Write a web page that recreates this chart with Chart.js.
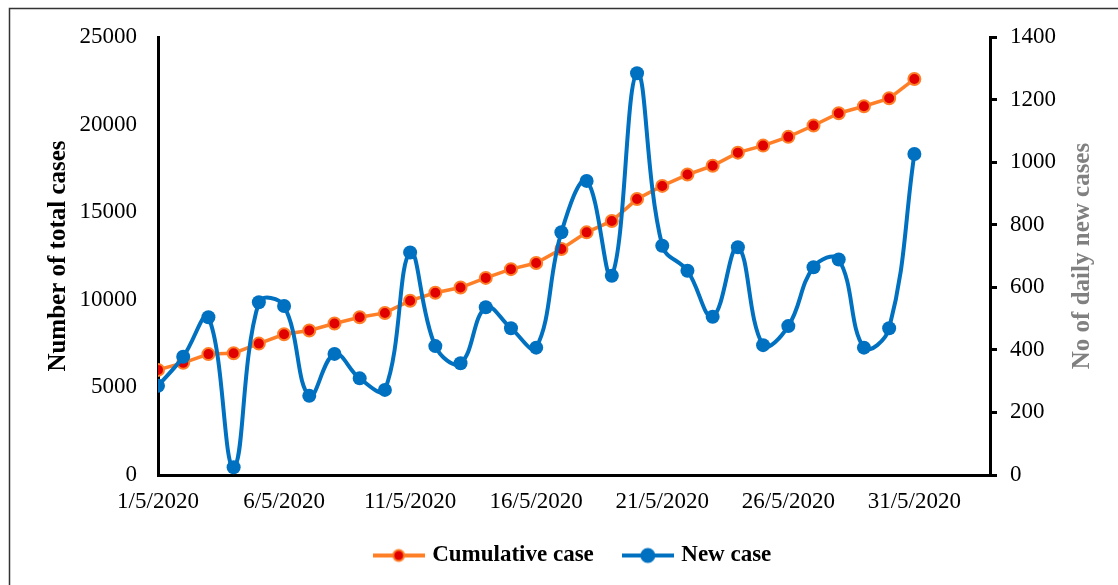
<!DOCTYPE html>
<html>
<head>
<meta charset="utf-8">
<title>Cumulative and new cases, May 2020</title>
<script src="https://cdn.jsdelivr.net/npm/chart.js@4.4.1/dist/chart.umd.min.js"></script>
<style>
  html, body { margin: 0; padding: 0; background: #fff; }
  #wrap { width: 1118px; height: 585px; }
</style>
</head>
<body>
<div id="wrap"><canvas id="casesChart" width="1118" height="585"></canvas></div>
<script>
// day of May 2020 for each point
const days = [1, 2, 3, 4, 5, 6, 7, 8, 9, 10, 11, 12, 13, 14, 15, 16,
  17, 18, 19, 20, 21, 22, 23, 24, 25, 26, 27, 28, 29, 30, 31];
const tickDays = [1, 6, 11, 16, 21, 26, 31];

// values
const cumulativeCases = [6000, 6400, 6900, 6950, 7500, 8030, 8250, 8650, 9000, 9250,
  9950, 10400, 10700, 11250, 11750, 12100, 12900, 13850, 14500, 15750,
  16500, 17150, 17650, 18400, 18800, 19300, 19950, 20650, 21050, 21500, 22600];
const newCases = [285, 378, 504, 25, 552, 540, 253, 387, 309, 272,
  711, 412, 357, 536, 469, 407, 776, 940, 637, 1284,
  733, 653, 506, 728, 415, 476, 664, 689, 407, 469, 1026];

const serif = "'Liberation Serif', 'Times New Roman', serif";
Chart.defaults.font.family = serif;
Chart.defaults.color = '#000';

const orange = '#FF7F27';
const red = '#E00000';
const blue = '#0070C0';

// legend marker: short line with a dot in the middle
function makeMarker(lineColor, dotFill, dotBorder, r) {
  const c = document.createElement('canvas');
  c.width = 52; c.height = 18;
  const g = c.getContext('2d');
  g.strokeStyle = lineColor;
  g.lineWidth = 4;
  g.beginPath(); g.moveTo(0, 9); g.lineTo(52, 9); g.stroke();
  g.fillStyle = dotFill;
  g.strokeStyle = dotBorder;
  g.lineWidth = 2;
  g.beginPath(); g.arc(26, 9, r, 0, Math.PI * 2); g.fill(); g.stroke();
  return c;
}
const cumulativeMarker = makeMarker(orange, red, orange, 5.5);
const newMarker = makeMarker(blue, blue, blue, 6.5);

const framePlugin = {
  id: 'frame',
  beforeDraw(chart) {
    const ctx = chart.ctx;
    ctx.save();
    ctx.fillStyle = '#fff';
    ctx.fillRect(0, 0, chart.width, chart.height);
    ctx.strokeStyle = '#333';
    ctx.lineWidth = 1.5;
    ctx.strokeRect(9.5, 8.5, chart.width + 20, chart.height + 20);
    ctx.restore();
  },
  afterDraw(chart) {
    // right axis title reads bottom-to-top like the left one
    const ctx = chart.ctx;
    const area = chart.chartArea;
    ctx.save();
    ctx.translate(chart.scales.y1.left + 93, (area.top + area.bottom) / 2);
    ctx.rotate(-Math.PI / 2);
    ctx.font = "bold 25px " + serif;
    ctx.fillStyle = '#808080';
    ctx.textAlign = 'center';
    ctx.textBaseline = 'middle';
    ctx.fillText('No of daily new cases', 0, 0);
    ctx.restore();
  }
};

const tickFont = { family: serif, size: 23 };

new Chart(document.getElementById('casesChart'), {
  type: 'line',
  data: {
    datasets: [
      {
        label: 'Cumulative case',
        data: days.map((d, i) => ({ x: d, y: cumulativeCases[i] })),
        yAxisID: 'y',
        order: 1,
        borderColor: orange,
        borderWidth: 3.5,
        tension: 0,
        pointRadius: 6,
        pointBorderWidth: 2,
        pointBackgroundColor: red,
        pointBorderColor: orange,
      },
      {
        label: 'New case',
        data: days.map((d, i) => ({ x: d, y: newCases[i] })),
        yAxisID: 'y1',
        order: 0,
        borderColor: blue,
        borderWidth: 4,
        tension: 0.4,
        pointRadius: 7,
        pointBorderWidth: 0,
        pointBackgroundColor: blue,
      },
    ],
  },
  options: {
    responsive: false,
    animation: false,
    layout: { padding: { top: 37, left: 0, right: 0, bottom: 8 } },
    scales: {
      x: {
        type: 'linear',
        min: 1,
        max: 34,
        afterBuildTicks: (s) => { s.ticks = tickDays.map((v) => ({ value: v })); },
        afterFit: (s) => { s.height = 37; },
        grid: { display: false },
        border: { display: true, color: '#000', width: 3 },
        ticks: {
          padding: 5,
          font: tickFont,
          maxRotation: 0,
          autoSkip: false,
          callback: (v) => v + '/5/2020',
        },
      },
      y: {
        position: 'left',
        min: 0,
        max: 25000,
        afterFit: (s) => { s.width = 158; },
        grid: { display: false },
        border: { display: true, color: '#000', width: 3 },
        ticks: { stepSize: 5000, padding: 13, font: tickFont, callback: (v) => String(v) },
        title: {
          display: true,
          text: 'Number of total cases',
          color: '#000',
          font: { family: serif, size: 25, weight: 'bold' },
          padding: { top: 44, bottom: 0 },
        },
      },
      y1: {
        position: 'right',
        min: 0,
        max: 1400,
        afterFit: (s) => { s.width = 128; },
        grid: {
          display: true,
          drawOnChartArea: false,
          drawTicks: true,
          tickLength: 7,
          color: '#000',
          lineWidth: 3,
        },
        border: { display: true, color: '#000', width: 3 },
        ticks: { stepSize: 200, padding: 13, font: tickFont, callback: (v) => String(v) },
      },
    },
    plugins: {
      tooltip: { enabled: false },
      legend: {
        position: 'bottom',
        fullSize: false,
        labels: {
          usePointStyle: true,
          pointStyleWidth: 44,
          padding: 32,
          color: '#000',
          font: { family: serif, size: 23, weight: 'bold' },
          generateLabels: () => [
            { text: 'Cumulative case', pointStyle: cumulativeMarker, datasetIndex: 0, lineWidth: 0, hidden: false },
            { text: 'New case', pointStyle: newMarker, datasetIndex: 1, lineWidth: 0, hidden: false },
          ],
        },
      },
    },
  },
  plugins: [framePlugin],
});
</script>
</body>
</html>
